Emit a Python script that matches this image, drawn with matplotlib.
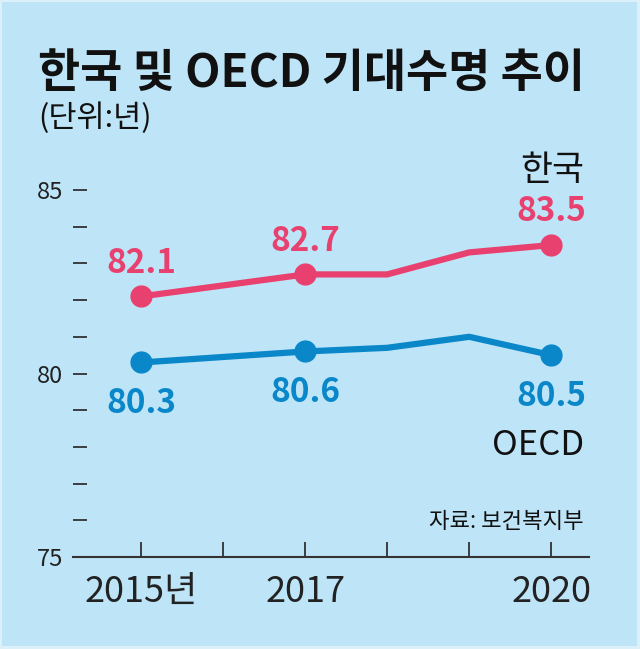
import matplotlib
matplotlib.use('Agg')
import matplotlib.pyplot as plt
from matplotlib.patches import Rectangle

plt.rcParams['font.family'] = ['Noto Sans CJK KR', 'DejaVu Sans']

# 데이터
kor_years = [2015, 2017, 2018, 2019, 2020]
kor_vals = [82.1, 82.7, 82.7, 83.3, 83.5]
oecd_years = [2015, 2017, 2018, 2019, 2020]
oecd_vals = [80.3, 80.6, 80.7, 81.0, 80.5]
mark_years = [2015, 2017, 2020]
kor_marks = [82.1, 82.7, 83.5]
oecd_marks = [80.3, 80.6, 80.5]
x_ticks = [2015, 2016, 2017, 2018, 2019, 2020]
x_labels = ['2015년', '', '2017', '', '', '2020']
y_ticks = [75, 76, 77, 78, 79, 80, 81, 82, 83, 84, 85]
y_labels = ['75', '', '', '', '', '80', '', '', '', '', '85']

bg = '#bee4f7'
edge = '#dcf0fa'
pink = '#e9416f'
blue = '#0a87c9'

fig = plt.figure(figsize=(6.4, 6.49), dpi=100)
fig.patch.set_facecolor(edge)
# 안쪽 배경 (가장자리 옅은 테두리)
fig.patches.append(Rectangle((2 / 640, 3 / 649), 635 / 640, 644 / 649, transform=fig.transFigure,
                             facecolor=bg, edgecolor='none', zorder=-10))

ax = fig.add_axes([73 / 640, 1 - 557 / 649, (589 - 73) / 640, (557 - 150) / 649])
ax.set_facecolor('none')

ax.plot(kor_years, kor_vals, color=pink, lw=4.5, solid_joinstyle='round', zorder=3)
ax.plot(mark_years, kor_marks, 'o', color=pink, ms=15, zorder=4)
ax.plot(oecd_years, oecd_vals, color=blue, lw=4.5, solid_joinstyle='round', zorder=3)
ax.plot(mark_years, oecd_marks, 'o', color=blue, ms=15, zorder=4)

for x, v in zip(mark_years, kor_marks):
    ax.annotate(f'{v:.1f}', (x, v), xytext=(0, 17), textcoords='offset points',
                ha='center', va='baseline', color=pink, fontsize=24, fontweight='bold')
for x, v in zip(mark_years, oecd_marks):
    ax.annotate(f'{v:.1f}', (x, v), xytext=(0, -18), textcoords='offset points',
                ha='center', va='top', color=blue, fontsize=24, fontweight='bold')

ax.set_xlim(2014.17, 2020.46)
ax.set_ylim(75, 86.09)
ax.set_xticks(x_ticks)
ax.set_xticklabels(x_labels, fontsize=26)
ax.set_yticks(y_ticks)
ax.set_yticklabels(y_labels, fontsize=17)
ax.tick_params(axis='x', direction='in', length=11, width=1.2, pad=12, colors='#222222')
ax.tick_params(axis='y', direction='in', length=10, width=1.2, pad=7, colors='#222222')
for s in ['top', 'right', 'left']:
    ax.spines[s].set_visible(False)
ax.spines['bottom'].set_color('#333333')
ax.spines['bottom'].set_linewidth(1.5)

ax.text(2020.4, 85.26, '한국', ha='right', va='baseline', fontsize=25, color='#111111')
ax.text(2020.4, 77.77, 'OECD', ha='right', va='baseline', fontsize=25, color='#111111')
ax.text(2020.4, 75.8, '자료: 보건복지부', ha='right', va='baseline', fontsize=16, color='#111111')

fig.text(38 / 640, 1 - 87 / 649, '한국 및 OECD 기대수명 추이', ha='left', va='baseline',
         fontsize=33, fontweight='bold', color='#111111')
fig.text(38 / 640, 1 - 127 / 649, '(단위:년)', ha='left', va='baseline',
         fontsize=22, color='#111111')

fig.savefig('out.png', dpi=100, facecolor=edge)
